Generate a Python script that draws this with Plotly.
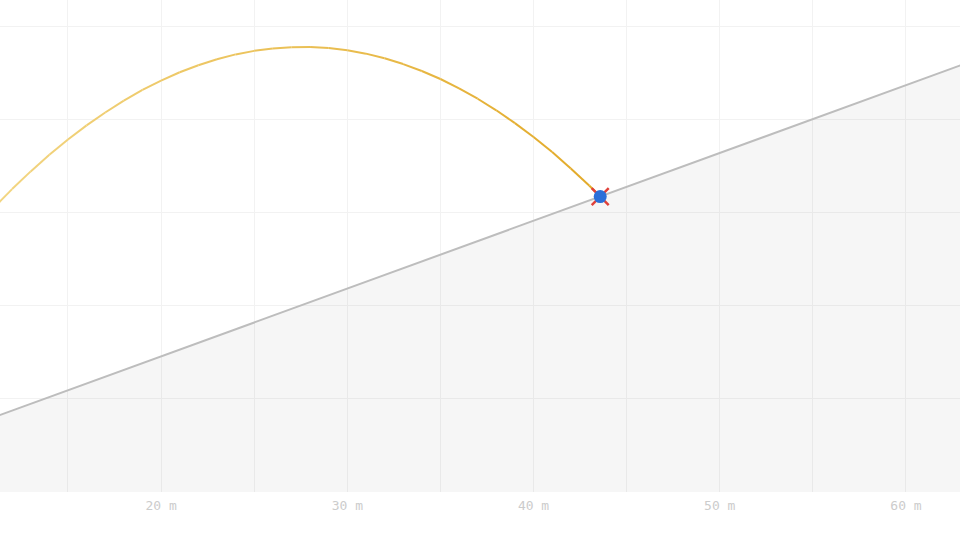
import plotly.graph_objects as go

# slope of the hill (20 deg), read at the two edges
ground_x = [0, 65]
ground_y = [0, 23.66]

# flight path of the ball, every metre
path_x = [0, 1, 2, 3, 4, 5, 6, 7, 8, 9, 10, 11, 12, 13, 14, 15, 16, 17, 18, 19, 20, 21, 22,
          23, 24, 25, 26, 27, 28, 29, 30, 31, 32, 33, 34, 35, 36, 37, 38, 39, 40, 41, 42, 43, 43.58]
path_y = [0, 1.70, 3.34, 4.91, 6.43, 7.88, 9.26, 10.59, 11.85, 13.05, 14.18, 15.25, 16.26,
          17.21, 18.10, 18.92, 19.68, 20.37, 21.01, 21.58, 22.08, 22.53, 22.91, 23.23, 23.49,
          23.68, 23.81, 23.88, 23.89, 23.83, 23.71, 23.53, 23.28, 22.97, 22.60, 22.17, 21.67,
          21.11, 20.49, 19.80, 19.06, 18.25, 17.37, 16.44, 15.86]

# landing point
hit_x = [43.58]
hit_y = [15.86]

tick_vals = [20, 30, 40, 50, 60]
tick_text = ["20 m", "30 m", "40 m", "50 m", "60 m"]

fig = go.Figure()

fig.add_trace(go.Scatter(x=ground_x, y=ground_y, mode="lines", fill="tozeroy",
                         fillcolor="rgba(0,0,0,0.035)", line=dict(color="#bdbdbd", width=2),
                         hoverinfo="skip", showlegend=False))

# trail fades out towards the start
start = (248, 228, 160)
end = (226, 170, 40)
n = len(path_x) - 1
for i in range(n):
    t = i / (n - 1)
    c = tuple(round(start[k] + (end[k] - start[k]) * t) for k in range(3))
    fig.add_trace(go.Scatter(x=path_x[i:i + 2], y=path_y[i:i + 2], mode="lines",
                             line=dict(color="rgb(%d,%d,%d)" % c, width=2),
                             hoverinfo="skip", showlegend=False))

fig.add_trace(go.Scatter(x=hit_x, y=hit_y, mode="markers",
                         marker=dict(symbol="x-thin", size=17, line=dict(color="#e0413a", width=2.5)),
                         showlegend=False))
fig.add_trace(go.Scatter(x=hit_x, y=hit_y, mode="markers",
                         marker=dict(symbol="circle", size=13, color="#2b6fd8"),
                         showlegend=False))

fig.update_xaxes(range=[11.35, 62.9], tickvals=tick_vals, ticktext=tick_text,
                 showgrid=True, gridcolor="#f2f2f2", gridwidth=1, zeroline=False,
                 showline=False, ticks="", ticklabelstandoff=4,
                 minor=dict(dtick=5, tick0=0, showgrid=True, gridcolor="#f2f2f2"),
                 tickfont=dict(family="DejaVu Sans Mono", size=13, color="#cccccc"))
fig.update_yaxes(range=[0, 26.41], dtick=5, tick0=0, showgrid=True, gridcolor="#f2f2f2",
                 zeroline=False, showticklabels=False, ticks="")

fig.update_layout(width=960, height=540, margin=dict(l=0, r=0, t=0, b=48),
                  plot_bgcolor="white", paper_bgcolor="white")

fig.write_html("out.html", config={"displayModeBar": False},
               post_script="document.body.style.margin='0';")
